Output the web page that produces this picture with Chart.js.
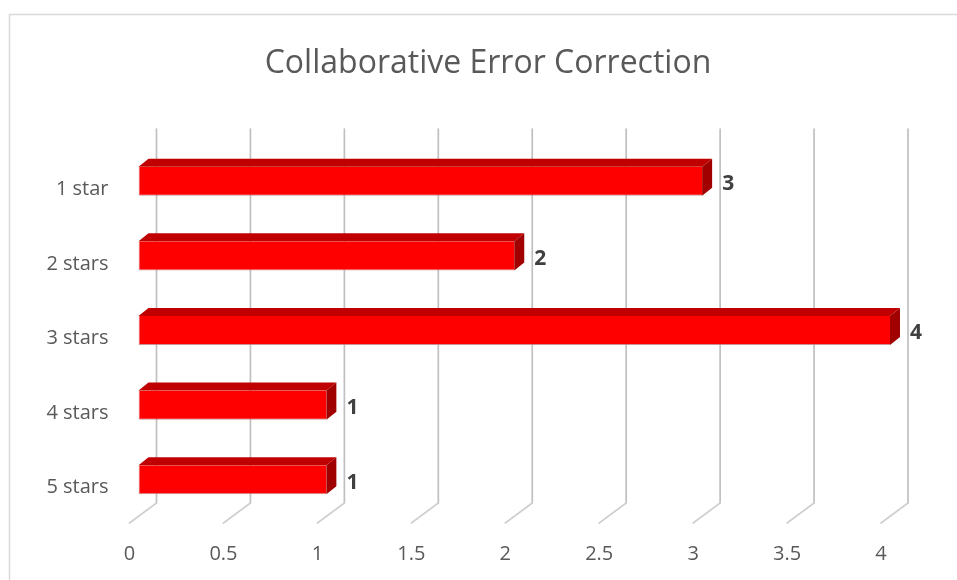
<!DOCTYPE html>
<html>
<head>
<meta charset="utf-8">
<title>Collaborative Error Correction</title>
<script src="https://cdn.jsdelivr.net/npm/chart.js@4"></script>
<style>
    html, body { margin: 0; padding: 0; background: #fff; }
    #wrap { width: 957px; height: 580px; }
</style>
</head>
<body>
<div id="wrap"><canvas id="myChart" width="957" height="580"></canvas></div>
<script>
const chartTitle = 'Collaborative Error Correction';
const categories = ['1 star', '2 stars', '3 stars', '4 stars', '5 stars'];
const ratings = [3, 2, 4, 1, 1];
const axisMin = 0;
const axisMax = 4;
const axisStep = 0.5;

const FONT = "'Open Sans', 'Noto Sans', sans-serif";
const TEXT = '#595959';
const DEPTH_X = 10;
const DEPTH_Y = -8;

// outer frame of the chart box and the title, centred on the frame
const framePlugin = {
    id: 'frame',
    beforeDraw(chart) {
        const c = chart.ctx;
        c.save();
        c.fillStyle = '#fff';
        c.fillRect(0, 0, chart.width, chart.height);
        c.strokeStyle = '#d9d9d9';
        c.lineWidth = 1.5;
        c.strokeRect(9.5, 14.5, chart.width + 20, chart.height + 20);
        c.fillStyle = TEXT;
        c.font = '32px ' + FONT;
        c.textAlign = 'center';
        c.textBaseline = 'middle';
        c.fillText(chartTitle, 488, 64);
        c.restore();
    }
};

// back wall gridlines with the floor edge running to the front
const wallPlugin = {
    id: 'wall',
    beforeDatasetsDraw(chart) {
        const c = chart.ctx;
        const area = chart.chartArea;
        const xs = chart.scales.x;
        const top = area.top - 15;
        const back = area.bottom - 14;
        const front = area.bottom + 6;
        c.save();
        c.lineCap = 'round';
        xs.ticks.forEach(t => {
            const px = xs.getPixelForValue(t.value);
            c.strokeStyle = '#c0c0c0';
            c.lineWidth = 1.7;
            c.beginPath();
            c.moveTo(px + 18, top);
            c.lineTo(px + 18, back);
            c.stroke();
            c.strokeStyle = '#d0d0d0';
            c.beginPath();
            c.moveTo(px + 18, back);
            c.lineTo(px - 9, front);
            c.stroke();
        });
        c.restore();
    }
};

// top and side faces of each bar, then the value next to it
const barFacesPlugin = {
    id: 'barFaces',
    afterDatasetsDraw(chart) {
        const c = chart.ctx;
        const meta = chart.getDatasetMeta(0);
        c.save();
        meta.data.forEach((bar, i) => {
            const p = bar.getProps(['x', 'y', 'base', 'height'], true);
            const top = p.y - p.height / 2;
            const bottom = p.y + p.height / 2;

            c.fillStyle = '#c00000';
            c.beginPath();
            c.moveTo(p.base, top);
            c.lineTo(p.base + DEPTH_X, top + DEPTH_Y);
            c.lineTo(p.x + DEPTH_X, top + DEPTH_Y);
            c.lineTo(p.x, top);
            c.closePath();
            c.fill();

            c.fillStyle = '#a00000';
            c.beginPath();
            c.moveTo(p.x, top);
            c.lineTo(p.x + DEPTH_X, top + DEPTH_Y);
            c.lineTo(p.x + DEPTH_X, bottom + DEPTH_Y);
            c.lineTo(p.x, bottom);
            c.closePath();
            c.fill();

            c.fillStyle = '#404040';
            c.font = 'bold 21px ' + FONT;
            c.textAlign = 'left';
            c.textBaseline = 'middle';
            c.fillText(String(ratings[i]), p.x + 20, p.y + 3);
        });
        c.restore();
    }
};

const ctx = document.getElementById('myChart').getContext('2d');
const myChart = new Chart(ctx, {
    type: 'bar',
    data: {
        labels: categories,
        datasets: [{
            label: 'Ratings',
            data: ratings,
            backgroundColor: '#ff0000',
            borderColor: 'rgba(190, 120, 120, 0.8)',
            borderWidth: { left: 1, bottom: 1, top: 0, right: 0 },
            borderSkipped: false,
            barPercentage: 0.39,
            categoryPercentage: 1
        }]
    },
    options: {
        indexAxis: 'y',
        responsive: false,
        animation: false,
        layout: { padding: { top: 144, left: 0, right: 67, bottom: 0 } },
        plugins: {
            legend: { display: false },
            tooltip: { enabled: false },
            title: { display: false }
        },
        scales: {
            x: {
                min: axisMin,
                max: axisMax,
                ticks: {
                    stepSize: axisStep,
                    color: TEXT,
                    font: { family: FONT, size: 20 },
                    labelOffset: -9,
                    padding: 25,
                    maxRotation: 0,
                    callback: v => String(v)
                },
                grid: { display: false, drawTicks: false },
                border: { display: false },
                afterFit(scale) { scale.height = 63; }
            },
            y: {
                ticks: {
                    color: TEXT,
                    font: { family: FONT, size: 20 },
                    labelOffset: 8,
                    padding: 30
                },
                grid: { display: false, drawTicks: false },
                border: { display: false },
                afterFit(scale) { scale.width = 138.5; }
            }
        }
    },
    plugins: [framePlugin, wallPlugin, barFacesPlugin]
});
</script>
</body>
</html>
